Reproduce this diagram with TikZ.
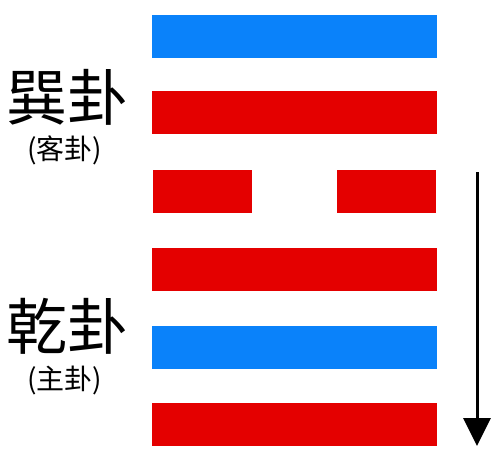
\documentclass[tikz,border=0pt]{standalone}
\usepackage{fontspec}
\usepackage{tikz}
\usetikzlibrary{arrows.meta}
\newfontfamily\cjk{Noto Sans CJK TC}
\definecolor{yaoblue}{RGB}{10,130,250}
\definecolor{yaored}{RGB}{228,0,0}

\begin{document}
\begin{tikzpicture}[x=1pt,y=-1pt,
  yao/.style={inner sep=0pt,minimum height=43pt},
  whole/.style={yao,minimum width=285pt},
  half/.style={yao,minimum width=99pt},
  bigname/.style={font=\cjk\fontsize{61}{61}\selectfont,inner sep=0pt},
  smallname/.style={font=\cjk\fontsize{28}{28}\selectfont,inner sep=0pt}]
\useasboundingbox[fill=white] (0,0) rectangle (493,455);
\node[whole,fill=yaoblue] (y6) at (294.5,36) {};
\node[whole,fill=yaored] (y5) at (294.5,112) {};
\node[half,fill=yaored] (y4l) at (202,191) {};
\node[half,fill=yaored] (y4r) at (386.5,191) {};
\node[whole,fill=yaored] (y3) at (294.5,269.5) {};
\node[whole,fill=yaoblue] (y2) at (294.5,347.5) {};
\node[whole,fill=yaored] (y1) at (294.5,424.5) {};
\node[bigname] (xun) at (67,97) {巽卦};
\node[smallname] (ke) at (65,150) {(客卦)};
\node[bigname] (qian) at (67,326) {乾卦};
\node[smallname] (zhu) at (65,380) {(主卦)};
\coordinate (top) at (477,172);
\coordinate (bot) at (477,446);
\draw[line width=3pt,-{Triangle[width=27pt,length=28pt]}] (top) -- (bot);
\end{tikzpicture}
\end{document}
